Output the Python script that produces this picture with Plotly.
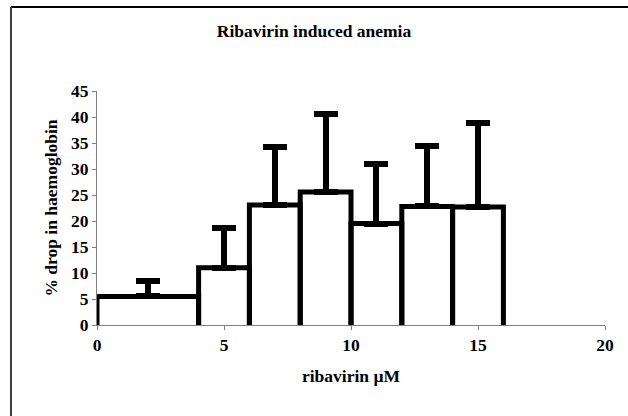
import plotly.graph_objects as go

# Data
bin_left = [0, 4, 6, 8, 10, 12, 14]
bin_right = [4, 6, 8, 10, 12, 14, 16]
drop_mean = [5.5, 11.0, 23.1, 25.6, 19.5, 22.8, 22.7]
drop_err = [3.0, 7.7, 11.1, 15.0, 11.5, 11.6, 16.2]
x_ticks = [0, 5, 10, 15, 20]
y_ticks = [0, 5, 10, 15, 20, 25, 30, 35, 40, 45]

centers = [(l + r) / 2 for l, r in zip(bin_left, bin_right)]
widths = [r - l for l, r in zip(bin_left, bin_right)]

# outline path (left, top, right sides only)
ox, oy = [], []
for l, r, h in zip(bin_left, bin_right, drop_mean):
    ox += [l, l, r, r, None]
    oy += [0, h, h, 0, None]

FONT = "Liberation Serif"
FS = 17.5

fig = go.Figure()
fig.add_trace(go.Bar(
    x=centers, y=drop_mean, width=widths,
    marker=dict(color="white", line=dict(width=0)),
    error_y=dict(type="data", array=drop_err, arrayminus=[0] * len(drop_err),
                 color="black", thickness=6, width=12),
    showlegend=False, hoverinfo="skip",
))
fig.add_trace(go.Scatter(
    x=ox, y=oy, mode="lines",
    line=dict(color="black", width=5),
    showlegend=False, hoverinfo="skip",
))

W, H = 628, 416
L, R, T, B = 97, 23, 91, 91
pw, ph = W - L - R, H - T - B

def px_to_paper_x(px):
    return (px - L) / pw

def py_to_paper_y(py):
    return (H - B - py) / ph

fig.update_layout(
    width=W, height=H,
    margin=dict(l=L, r=R, t=T, b=B, autoexpand=False),
    paper_bgcolor="white", plot_bgcolor="white",
    font=dict(family=FONT, size=FS, color="black"),
    bargap=0,
    title=dict(text="<b>Ribavirin induced anemia</b>", x=0.5, xref="container", xanchor="center",
               y=1 - 31 / H, yanchor="middle", font=dict(family=FONT, size=FS)),
    xaxis=dict(
        range=[0, 20], tickvals=x_ticks, ticktext=[f"<b>{v}</b>" for v in x_ticks],
        showgrid=False, zeroline=False, showline=True, linecolor="#808080", linewidth=1,
        ticks="outside", ticklen=4, tickcolor="#808080", automargin=False,
        tickfont=dict(family=FONT, size=FS),
        title=dict(text="<b>ribavirin µM</b>", font=dict(family=FONT, size=FS), standoff=15),
    ),
    yaxis=dict(
        range=[0, 45], tickvals=y_ticks, ticktext=[f"<b>{v}</b>" for v in y_ticks],
        showgrid=False, zeroline=False, showline=True, linecolor="#808080", linewidth=1,
        ticks="outside", ticklen=4, tickcolor="#808080", automargin=False,
        tickfont=dict(family=FONT, size=FS),
        title=dict(text="<b>% drop in haemoglobin</b>", font=dict(family=FONT, size=FS), standoff=8),
    ),
    shapes=[
        dict(type="line", xref="paper", yref="paper",
             x0=px_to_paper_x(11), x1=px_to_paper_x(640),
             y0=py_to_paper_y(7), y1=py_to_paper_y(7),
             line=dict(color="black", width=2)),
        dict(type="line", xref="paper", yref="paper",
             x0=px_to_paper_x(11), x1=px_to_paper_x(11),
             y0=py_to_paper_y(7), y1=py_to_paper_y(430),
             line=dict(color="#404040", width=2)),
    ],
)

fig.write_html("out.html", config={"displayModeBar": False},
               post_script="document.body.style.margin='0';document.body.style.overflow='hidden';")
